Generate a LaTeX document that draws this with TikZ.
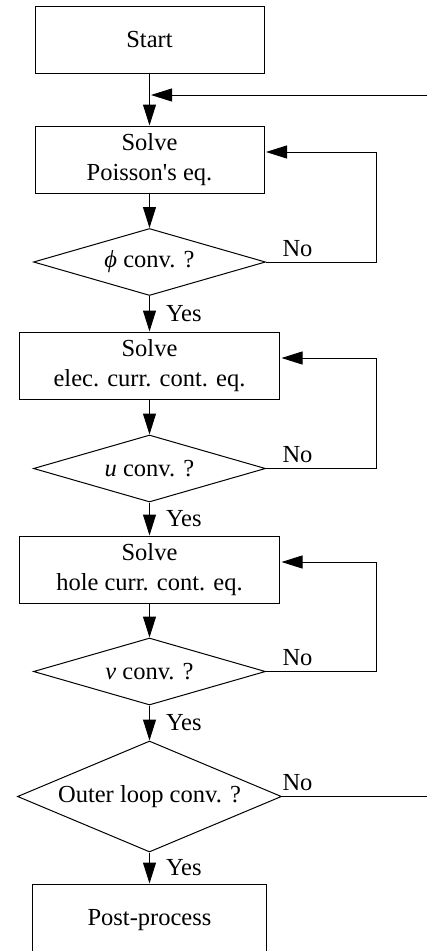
\documentclass[tikz,border=0pt]{standalone}
\usepackage{fontspec}
\setmainfont{Liberation Serif}
\usetikzlibrary{arrows.meta,shapes.geometric,calc}
\begin{document}
\begin{tikzpicture}[x=1pt,y=-1pt,line width=1pt,
  every node/.style={font=\fontsize{24.5}{30}\selectfont},
  box/.style={draw,rectangle,align=center,inner sep=0pt,minimum height=67pt},
  test/.style={draw,diamond,aspect=3,inner sep=0pt,minimum width=232pt,minimum height=67pt},
  arr/.style={-{Triangle[length=21pt,width=13pt]}},
  yeslabel/.style={anchor=west,inner sep=2pt,xshift=14pt},
  nolabel/.style={anchor=south west,inner sep=2pt,yshift=3pt}]
\useasboundingbox (0,0) rectangle (426,951);

% process boxes and decisions
\node[box,minimum width=229pt] (start)   at (149.5,39.5)  {Start};
\node[box,minimum width=229pt] (poisson) at (149.5,159.5) {Solve\\Poisson\textquotesingle s eq.};
\node[test] (phi)   at (149.5,262)   {\textit{ϕ} conv. ?};
\node[box,minimum width=260pt] (elec)    at (149.5,365.5) {Solve\\elec. curr. cont. eq.};
\node[test] (uconv) at (149.5,468.5) {\textit{u} conv. ?};
\node[box,minimum width=260pt] (hole)    at (149.5,569.5) {Solve\\hole curr. cont. eq.};
\node[test] (vconv) at (149.5,671.5) {\textit{v} conv. ?};
\node[test,aspect=2.4,minimum width=264pt,minimum height=111pt] (outer) at (149.5,796.5) {Outer loop conv. ?};
\node[box,minimum width=234pt,minimum height=72pt] (post) at (149.5,920) {Post-process};

% helper positions
\coordinate (lx) at (376,0);
\coordinate (rx) at (436,0);
\coordinate (nx) at (280,0);
\coordinate (reentry) at (151,95);

% main flow
\draw[arr] (start.south) -- (poisson.north);
\draw[arr] (poisson.south) -- (phi.north);
\draw[arr] (phi.south) -- node[yeslabel] (yes1) {Yes} (elec.north);
\draw[arr] (elec.south) -- (uconv.north);
\draw[arr] (uconv.south) -- node[yeslabel] (yes2) {Yes} (hole.north);
\draw[arr] (hole.south) -- (vconv.north);
\draw[arr] (vconv.south) -- node[yeslabel] (yes3) {Yes} (outer.north);
\draw[arr] (outer.south) -- node[yeslabel] (yes4) {Yes} (post.north);

% inner loops
\draw[arr,shorten >=1.5pt] (phi.east) -- (phi.east -| lx) |- ([yshift=7.5pt]poisson.east);
\draw[arr,shorten >=1.5pt] (uconv.east) -- (uconv.east -| lx) |- ([yshift=7.5pt]elec.east);
\draw[arr,shorten >=1.5pt] (vconv.east) -- (vconv.east -| lx) |- ([yshift=7.5pt]hole.east);
\node[nolabel] (no1) at (phi.east -| nx) {No};
\node[nolabel] (no2) at (uconv.east -| nx) {No};
\node[nolabel] (no3) at (vconv.east -| nx) {No};

% outer loop
\draw[arr] (outer.east) -- (outer.east -| rx) |- (reentry);
\node[nolabel] (no4) at (outer.east -| nx) {No};
\end{tikzpicture}
\end{document}
